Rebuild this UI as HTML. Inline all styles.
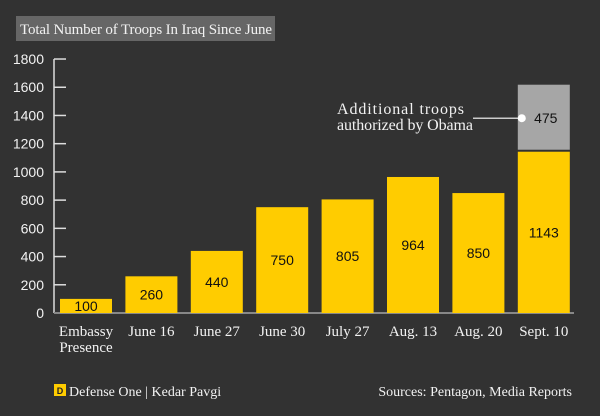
<!DOCTYPE html>
<html><head><meta charset="utf-8"><style>
body{margin:0;background:#323232;width:600px;height:416px;overflow:hidden;font-family:"Liberation Serif",serif;}
svg{display:block}
</style></head><body>
<svg width="600" height="416">
<rect x="0" y="0" width="600" height="416" fill="#323232"/>
<rect x="16" y="16" width="259" height="25" fill="#666"/>
<text x="20" y="34" fill="#f2f2f2" font-size="15" textLength="252">Total Number of Troops In Iraq Since June</text>
<g id="axis"></g>
<g id="bars"></g>
<rect x="54" y="384" width="12" height="12" fill="#ffcc00"/>
<text x="60" y="394" font-size="9" font-weight="bold" text-anchor="middle" fill="#222" font-family="Liberation Sans,sans-serif">D</text>
<text x="69" y="396" font-size="14" fill="#f2f2f2">Defense One | Kedar Pavgi</text>
<text x="572" y="396" font-size="14" fill="#f2f2f2" text-anchor="end">Sources: Pentagon, Media Reports</text>
</svg>
<script>
const categories=[["Embassy","Presence"],["June 16"],["June 27"],["June 30"],["July 27"],["Aug. 13"],["Aug. 20"],["Sept. 10"]];
const troops=[100,260,440,750,805,964,850,1143];
const additional=[0,0,0,0,0,0,0,475];
const ticks=[0,200,400,600,800,1000,1200,1400,1600,1800];
const NS="http://www.w3.org/2000/svg";
const y=v=>313-v*0.1411;
const x=i=>60+i*65.4;
const bw=52;
function mk(tag,attrs,parent,txt){const e=document.createElementNS(NS,tag);for(const k in attrs)e.setAttribute(k,attrs[k]);if(txt!==undefined)e.textContent=txt;parent.appendChild(e);return e;}
const ax=document.getElementById('axis');
const l=mk('line',{x1:54,x2:54,y1:y(1800),y2:y(0),stroke:'#ddd','stroke-width':1.5},ax);


ticks.forEach(t=>{
 const tk=mk('line',{x1:54,x2:66,y1:y(t),y2:y(t),stroke:'#ddd','stroke-width':1.5},ax);
 
 
 const tl=mk('text',{x:44,y:y(t)+5,'text-anchor':'end','font-size':14,fill:'#f2f2f2','font-family':'Liberation Sans,sans-serif'},ax,t);
 
 
});
const bl=mk('line',{x1:54,x2:574,y1:y(0),y2:y(0),stroke:'#888','stroke-width':2},ax);


const bg=document.getElementById('bars');
troops.forEach((v,i)=>{
 const r=mk('rect',{x:x(i),y:y(v),width:bw,height:y(0)-y(v),fill:'#ffcc00'},bg);
 
 
 const lab=mk('text',{x:x(i)+bw/2,y:(y(v)+y(0))/2+5,'text-anchor':'middle','font-size':14,fill:'#111','font-family':'Liberation Sans,sans-serif'},bg,v);
 
 
 if(additional[i]>0){
  const top=v+additional[i];
  const g=mk('rect',{x:x(i),y:y(top),width:bw,height:y(v)-y(top)-2,fill:'#a6a6a6'},bg);
  
  
  const cy=(y(top)+y(v))/2;
  const gl=mk('text',{x:x(i)+bw/2+2,y:cy+5,'text-anchor':'middle','font-size':14,fill:'#111','font-family':'Liberation Sans,sans-serif'},bg,additional[i]);
  
  
  const ln=mk('line',{x1:473,x2:x(i)+4,y1:cy,y2:cy,stroke:'#fff','stroke-width':1.2},bg);
  
  
  const dot=mk('circle',{cx:x(i)+4,cy:cy,r:4,fill:'#fff'},bg);
  
  
  const a1=mk('text',{x:337,y:cy-4,'font-size':16,fill:'#f2f2f2',textLength:127},bg,'Additional troops');
  
  
  const a2=mk('text',{x:337,y:cy+12,'font-size':16,fill:'#f2f2f2',textLength:136},bg,'authorized by Obama');
  
  
 }
 categories[i].forEach((s,j)=>{
  const c=mk('text',{x:x(i)+bw/2,y:336+j*16,'text-anchor':'middle','font-size':15,fill:'#f2f2f2'},bg,s);
  
  
 });
});
</script>
</body></html>
